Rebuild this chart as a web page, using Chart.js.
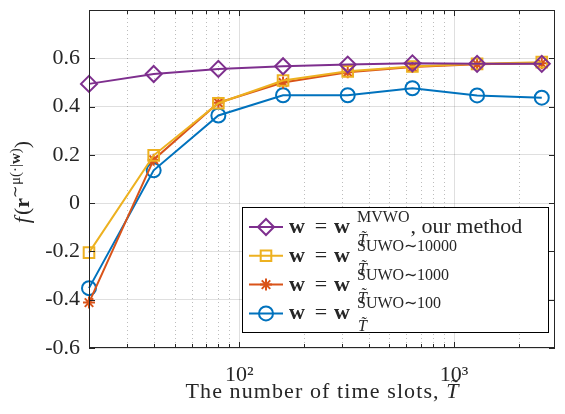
<!DOCTYPE html>
<html><head><meta charset="utf-8">
<script src="https://cdn.jsdelivr.net/npm/chart.js@4"></script>
<style>html,body{margin:0;padding:0;background:#fff;}canvas{display:block;}</style>
</head><body>
<canvas id="c" width="565" height="414"></canvas>
<script>
// ---- data ----
const xValues = [20, 40, 80, 160, 320, 640, 1280, 2560];
const mvwo      = [0.494, 0.535, 0.556, 0.567, 0.574, 0.579, 0.577, 0.577];
const suwo10000 = [-0.205, 0.198, 0.414, 0.508, 0.546, 0.566, 0.577, 0.584];
const suwo1000  = [-0.412, 0.180, 0.416, 0.500, 0.542, 0.564, 0.575, 0.579];
const suwo100   = [-0.352, 0.136, 0.363, 0.447, 0.447, 0.476, 0.446, 0.437];
const seriesSup = ['MVWO', 'SUWO\u223C10000', 'SUWO\u223C1000', 'SUWO\u223C100'];
const yTicks = [-0.6, -0.4, -0.2, 0, 0.2, 0.4, 0.6];
const yTickLabels = ['-0.6', '-0.4', '-0.2', '0', '0.2', '0.4', '0.6'];
const xMajorTicks = [100, 1000];
const xTickLabels = ['10\u00B2', '10\u00B3'];
const xMinorTicks = [30, 40, 50, 60, 70, 80, 90, 200, 300, 400, 500, 600, 700, 800, 900, 2000];

// ---- style ----
const FAM = '"Liberation Serif", "Times New Roman", serif';
const AX = '#262626';
const COLORS = ['#7E2F8E', '#EDB120', '#D95319', '#0072BD'];
const STYLES = ['rectRot', 'rect', 'star', 'circle'];
const RADII = [8, 7.5, 6, 7];

const seriesData = [mvwo, suwo10000, suwo1000, suwo100];
const datasets = seriesData.map((arr, k) => ({
  data: xValues.map((x, i) => ({ x: x, y: arr[i] })),
  borderColor: COLORS[k],
  backgroundColor: COLORS[k],
  borderWidth: 2,
  pointStyle: STYLES[k],
  pointRadius: RADII[k],
  pointBorderWidth: 2,
  pointBorderColor: COLORS[k],
  pointBackgroundColor: 'rgba(0,0,0,0)',
  fill: false,
  tension: 0,
  clip: false
}));

function ln(ctx, x1, y1, x2, y2) { ctx.beginPath(); ctx.moveTo(x1, y1); ctx.lineTo(x2, y2); ctx.stroke(); }
function tx(ctx, s, x, y, font) { ctx.font = font; ctx.fillText(s, x, y); return ctx.measureText(s).width; }
// italic T with a tilde accent above it; returns width
function tTilde(ctx, x, y, size) {
  const w = tx(ctx, 'T', x, y, 'italic ' + size + 'px ' + FAM);
  ctx.save(); ctx.textAlign = 'center';
  tx(ctx, '\u02DC', x + w / 2 + size * 0.1, y - size * 0.2, size + 'px ' + FAM);
  ctx.restore();
  return w;
}
function marker(ctx, k, x, y) {
  ctx.save();
  ctx.strokeStyle = COLORS[k]; ctx.fillStyle = 'rgba(0,0,0,0)'; ctx.lineWidth = 2;
  Chart.helpers.drawPoint(ctx, { pointStyle: STYLES[k], radius: RADII[k], rotation: 0, borderWidth: 2 }, x, y);
  ctx.restore();
}

const decor = {
  id: 'decor',
  beforeDatasetsDraw(chart) {
    const { ctx, chartArea: a } = chart; const x = chart.scales.x;
    ctx.save(); ctx.lineWidth = 1;
    ctx.strokeStyle = 'rgba(38,38,38,0.3)'; ctx.setLineDash([1, 3]);
    xMinorTicks.forEach(v => { const p = Math.round(x.getPixelForValue(v)) + 0.5; ln(ctx, p, a.top, p, a.bottom); });
    ctx.setLineDash([]); ctx.strokeStyle = 'rgba(38,38,38,0.15)';
    xMajorTicks.forEach(v => { const p = Math.round(x.getPixelForValue(v)) + 0.5; ln(ctx, p, a.top, p, a.bottom); });
    ctx.restore();
  },
  afterDraw(chart) {
    const { ctx, chartArea: a } = chart; const x = chart.scales.x, y = chart.scales.y;
    ctx.save();
    // box
    ctx.strokeStyle = AX; ctx.lineWidth = 1;
    ctx.strokeRect(a.left + 0.5, a.top + 0.5, a.right - a.left - 1, a.bottom - a.top - 1);
    // inward ticks
    yTicks.forEach(v => { const p = Math.round(y.getPixelForValue(v)) + 0.5;
      ln(ctx, a.left, p, a.left + 6, p); ln(ctx, a.right - 6, p, a.right, p); });
    xMajorTicks.forEach(v => { const p = Math.round(x.getPixelForValue(v)) + 0.5;
      ln(ctx, p, a.bottom, p, a.bottom - 6); ln(ctx, p, a.top, p, a.top + 6); });
    xMinorTicks.forEach(v => { const p = Math.round(x.getPixelForValue(v)) + 0.5;
      ln(ctx, p, a.bottom, p, a.bottom - 4); ln(ctx, p, a.top, p, a.top + 4); });

    // legend
    const L = 242, T = 207, R = 549, B = 333;
    ctx.fillStyle = '#fff'; ctx.fillRect(L, T, R - L, B - T);
    ctx.strokeStyle = '#000'; ctx.lineWidth = 1; ctx.strokeRect(L + 0.5, T + 0.5, R - L - 1, B - T - 1);
    ctx.textAlign = 'left'; ctx.textBaseline = 'alphabetic';
    for (let k = 0; k < 4; k++) {
      const yc = 227 + k * 28.8;
      ctx.strokeStyle = COLORS[k]; ctx.lineWidth = 2; ln(ctx, 249, yc, 283, yc);
      marker(ctx, k, 266, yc);
      ctx.fillStyle = AX;
      tx(ctx, 'w', 289, yc + 6, 'bold 22px ' + FAM);
      ctx.textAlign = 'center'; tx(ctx, '=', 321, yc + 6, '22px ' + FAM); ctx.textAlign = 'left';
      tx(ctx, 'w', 334, yc + 6, 'bold 22px ' + FAM);
      const ws = tx(ctx, seriesSup[k], 357, yc - 5, '16px ' + FAM);
      const wt = tTilde(ctx, 358, yc + 18, 16);
      if (k === 0) tx(ctx, ', our method', 357 + Math.max(ws, wt) + 1, yc + 6, '22px ' + FAM);
    }

    // x title
    ctx.fillStyle = AX;
    ctx.font = '22px ' + FAM;
    const s1 = 'The number of time slots, ';
    ctx.letterSpacing = '1.1px';
    const w1 = ctx.measureText(s1).width;
    ctx.font = 'italic 22px ' + FAM;
    ctx.letterSpacing = '0px';
    const w2 = ctx.measureText('T').width;
    const cx = (a.left + a.right) / 2; const sx = cx - (w1 + w2) / 2;
    ctx.letterSpacing = '1.1px';
    tx(ctx, s1, sx, 398, '22px ' + FAM);
    ctx.letterSpacing = '0px';
    tTilde(ctx, sx + w1, 398, 22);

    // y title (rotated)
    ctx.translate(29, (a.top + a.bottom) / 2 + 3);
    ctx.rotate(-Math.PI / 2);
    const parts = [
      ['f', 'italic 22px ' + FAM, 0], ['(', '22px ' + FAM, 0], ['r', 'bold 22px ' + FAM, 0],
      ['\u223C\u03BC(\u00B7|', '15px ' + FAM, -9], ['w', 'bold 15px ' + FAM, -9], [')', '15px ' + FAM, -9],
      [')', '22px ' + FAM, 0]
    ];
    let tot = 0; parts.forEach(p => { ctx.font = p[1]; tot += ctx.measureText(p[0]).width + (p[0] === 'f' ? 2 : 0); });
    let px = -tot / 2;
    parts.forEach(p => { px += tx(ctx, p[0], px, p[2], p[1]) + (p[0] === 'f' ? 2 : 0); });
    ctx.restore();
  }
};

new Chart(document.getElementById('c'), {
  type: 'line',
  data: { datasets: datasets },
  options: {
    responsive: false, animation: false, devicePixelRatio: 1,
    layout: { padding: { top: 9, right: 1, left: 0, bottom: 0 } },
    plugins: { legend: { display: false }, tooltip: { enabled: false } },
    scales: {
      x: {
        type: 'logarithmic', min: 20, max: 2950,
        afterBuildTicks: s => { s.ticks = xMajorTicks.map(v => ({ value: v })); },
        afterFit: s => { s.height = 66; s.paddingLeft = 0; s.paddingRight = 0; },
        grid: { display: false }, border: { display: false },
        ticks: { autoSkip: false, maxRotation: 0, padding: 6, color: AX, font: { family: FAM, size: 22 },
          callback: v => { const i = xMajorTicks.indexOf(v); return i >= 0 ? xTickLabels[i] : ''; } }
      },
      y: {
        type: 'linear', min: -0.6, max: 0.8,
        afterBuildTicks: s => { s.ticks = yTicks.map(v => ({ value: v })); },
        afterFit: s => { s.width = 89; s.paddingTop = 0; s.paddingBottom = 0; },
        grid: { color: 'rgba(38,38,38,0.15)', drawTicks: false, lineWidth: 1 },
        border: { display: false },
        ticks: { padding: 9, color: AX, font: { family: FAM, size: 22 },
          callback: v => { const i = yTicks.findIndex(t => Math.abs(t - v) < 1e-9); return i >= 0 ? yTickLabels[i] : ''; } }
      }
    }
  },
  plugins: [decor]
});
</script>
</body></html>
